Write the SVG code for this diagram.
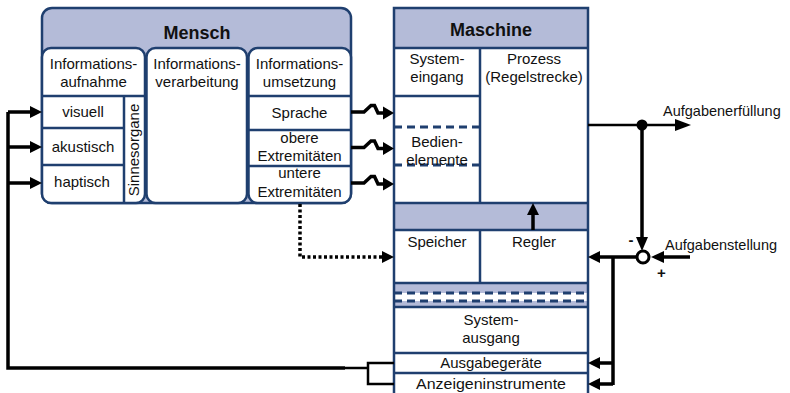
<svg xmlns="http://www.w3.org/2000/svg" width="790" height="393" viewBox="0 0 790 393">
<defs>
<style>
.t{font-family:"Liberation Sans",Arial,sans-serif;font-size:15px;fill:#111;text-anchor:middle}
.h{font-family:"Liberation Sans",Arial,sans-serif;font-size:18px;font-weight:bold;fill:#111;text-anchor:middle}
.l{font-family:"Liberation Sans",Arial,sans-serif;font-size:14.5px;fill:#111}
.b{stroke:#1f3f6f;stroke-width:2.5;fill:none}
.bx{stroke:#1f3f6f;stroke-width:2.5}
.lav{fill:#b4bbd8}
.dash{stroke:#1f3f6f;stroke-width:3;stroke-dasharray:8,5;fill:none}
.c{stroke:#000;stroke-width:3.5;fill:none}
.ct{stroke:#000;stroke-width:2.5;fill:none}
.lz{stroke:#000;stroke-width:3.5;fill:none;stroke-linejoin:miter}
.ah{fill:#000}
</style>
</defs>

<g id="mensch">
<rect x="42" y="8" width="309" height="195" rx="10" class="bx lav"/>
<text class="h" x="197" y="39">Mensch</text>
<g id="aufnahme">
<rect x="42" y="48" width="103" height="155" rx="9" class="bx" fill="#fff"/>
<line x1="42" y1="96" x2="145" y2="96" class="b"/>
<line x1="42" y1="128" x2="124" y2="128" class="b"/>
<line x1="42" y1="165" x2="124" y2="165" class="b"/>
<line x1="124" y1="96" x2="124" y2="203" class="b"/>
<text class="t" x="93.5" y="69">Informations-</text>
<text class="t" x="93.5" y="87">aufnahme</text>
<text class="t" x="83" y="117">visuell</text>
<text class="t" x="83" y="152">akustisch</text>
<text class="t" x="82" y="187">haptisch</text>
<text class="t" transform="translate(139,150) rotate(-90)">Sinnesorgane</text>
</g>
<g id="verarbeitung">
<rect x="146.5" y="48" width="100.5" height="155" rx="9" class="bx" fill="#fff"/>
<text class="t" x="197" y="69">Informations-</text>
<text class="t" x="197" y="87">verarbeitung</text>
</g>
<g id="umsetzung">
<rect x="248.5" y="48" width="102.5" height="155" rx="9" class="bx" fill="#fff"/>
<line x1="248.5" y1="96" x2="351" y2="96" class="b"/>
<line x1="248.5" y1="130" x2="351" y2="130" class="b"/>
<line x1="248.5" y1="166" x2="351" y2="166" class="b"/>
<text class="t" x="299.5" y="69">Informations-</text>
<text class="t" x="299.5" y="87">umsetzung</text>
<text class="t" x="299.5" y="118">Sprache</text>
<text class="t" x="299.5" y="143">obere</text>
<text class="t" x="299.5" y="161">Extremitäten</text>
<text class="t" x="299.5" y="178">untere</text>
<text class="t" x="299.5" y="197">Extremitäten</text>
</g>
</g>

<g id="maschine">
<rect x="394" y="8" width="194" height="390" fill="#fff"/>
<rect x="394" y="8" width="194" height="40" class="lav"/>
<rect x="394" y="203" width="194" height="27" class="lav"/>
<rect x="394" y="283" width="194" height="24" class="lav"/>
<rect x="393" y="293" width="195" height="8" fill="#fff"/>
<line x1="394" y1="293" x2="588" y2="293" class="dash"/>
<line x1="394" y1="301" x2="588" y2="301" class="dash"/>
<line x1="394" y1="48" x2="588" y2="48" class="b"/>
<line x1="480" y1="48" x2="480" y2="203" class="b"/>
<line x1="394" y1="96" x2="480" y2="96" class="b"/>
<line x1="394" y1="127" x2="480" y2="127" class="dash"/>
<line x1="394" y1="165" x2="480" y2="165" class="dash"/>
<line x1="394" y1="203" x2="588" y2="203" class="b"/>
<line x1="394" y1="230" x2="588" y2="230" class="b"/>
<line x1="480" y1="230" x2="480" y2="283" class="b"/>
<line x1="394" y1="283" x2="588" y2="283" class="b"/>
<line x1="394" y1="307" x2="588" y2="307" class="b"/>
<line x1="394" y1="353" x2="588" y2="353" class="b"/>
<line x1="394" y1="373" x2="588" y2="373" class="b"/>
<rect x="394" y="8" width="194" height="390" class="b"/>
<text class="h" x="491" y="36">Maschine</text>
<text class="t" x="437" y="64">System-</text>
<text class="t" x="437" y="82">eingang</text>
<text class="t" x="534" y="64">Prozess</text>
<text class="t" x="534" y="82">(Regelstrecke)</text>
<text class="t" x="437" y="147">Bedien-</text>
<text class="t" x="437" y="165">elemente</text>
<text class="t" x="437" y="247">Speicher</text>
<text class="t" x="534" y="247">Regler</text>
<text class="t" x="491" y="325">System-</text>
<text class="t" x="491" y="343">ausgang</text>
<text class="t" x="491" y="368">Ausgabegeräte</text>
<text class="t" x="491" y="389" textLength="150" lengthAdjust="spacingAndGlyphs">Anzeigeninstrumente</text>
</g>

<g id="labels">
<text class="l" x="663" y="116">Aufgabenerfüllung</text>
<text class="l" x="665" y="250">Aufgabenstellung</text>
<text class="h" style="font-size:15px" x="631" y="245">-</text>
<text class="h" style="font-size:15px" x="661.5" y="278">+</text>
</g>

<g id="connectors">
<path class="c" d="M8,112 V368 H345"/>
<path class="ct" d="M345,368 H368 M394,363 H368 V384 H394"/>
<path class="c" d="M8,112 H32 M8,147 H32 M8,183 H32"/>
<polygon class="ah" points="42,112 30,106 30,118"/>
<polygon class="ah" points="42,147 30,141 30,153"/>
<polygon class="ah" points="42,183 30,177 30,189"/>
<path class="lz" d="M351,112 H364 L371,105.5 H374.5 L378,113 H385"/>
<path class="lz" d="M351,147.5 H364 L371,141 H374.5 L378,148.5 H385"/>
<path class="lz" d="M351,183 H364 L371,176.5 H374.5 L378,184 H385"/>
<polygon class="ah" points="394,113 383,106.5 383,119.5"/>
<polygon class="ah" points="394,148.5 383,142 383,155"/>
<polygon class="ah" points="394,184 383,177.5 383,190.5"/>
<path class="c" stroke-dasharray="3,2.5" d="M300,204 V257 H383"/>
<polygon class="ah" points="394,257 382,251 382,263"/>
<path class="c" d="M533,230 V213"/>
<polygon class="ah" points="533,203 527,215 539,215"/>
<path class="ct" d="M588,125 H676"/>
<polygon class="ah" points="691,125 675,119 675,131"/>
<circle cx="642" cy="125" r="5.5" fill="#000"/>
<path class="c" d="M642,125 V238"/>
<polygon class="ah" points="642,251 636,237 648,237"/>
<circle cx="643" cy="257" r="6" fill="#fff" stroke="#000" stroke-width="3"/>
<path class="c" d="M690,257 H663"/>
<polygon class="ah" points="651,257 664,251 664,263"/>
<path class="c" d="M637,257 H599"/>
<polygon class="ah" points="588,257 600,251 600,263"/>
<path class="c" d="M613,257 V385"/>
<path class="c" d="M613,363 H599 M613,384 H599"/>
<polygon class="ah" points="588,363 600,357 600,369"/>
<polygon class="ah" points="588,384 600,378 600,390"/>
</g>
</svg>
